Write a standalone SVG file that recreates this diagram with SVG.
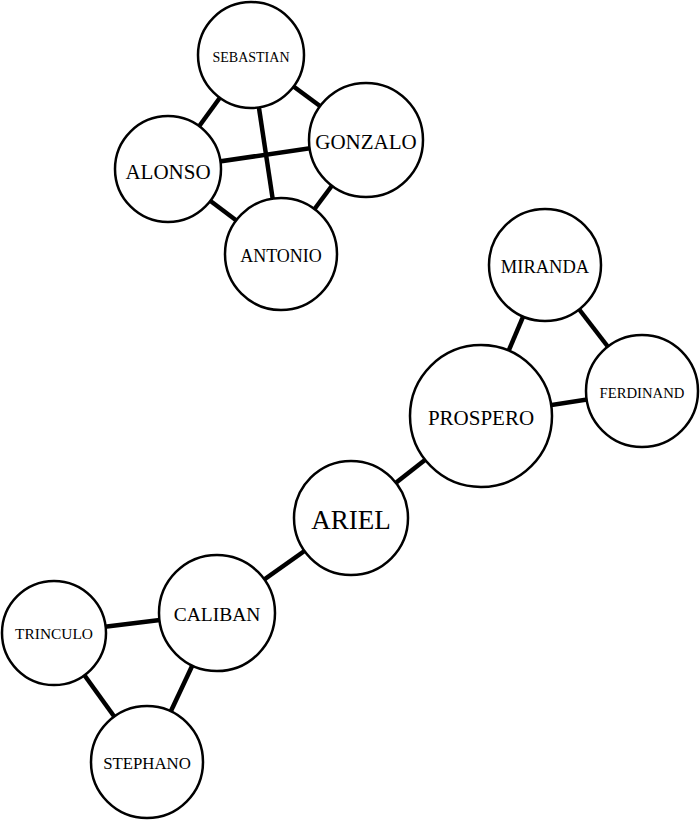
<svg xmlns="http://www.w3.org/2000/svg" width="700" height="820" viewBox="0 0 700 820">
<style>
.n circle{fill:#fff;stroke:#000;stroke-width:2.5}
.n text{font-family:"Liberation Serif","Times New Roman",serif;fill:#000;text-anchor:middle;dominant-baseline:central}
#edges line{stroke:#000;stroke-width:4.5}
</style>
<rect width="700" height="820" fill="#fff"/>
<g id="edges">
<line x1="251" y1="55" x2="168" y2="169"/>
<line x1="251" y1="55" x2="366" y2="140"/>
<line x1="251" y1="55" x2="281" y2="254"/>
<line x1="168" y1="169" x2="366" y2="140"/>
<line x1="168" y1="169" x2="281" y2="254"/>
<line x1="366" y1="140" x2="281" y2="254"/>
<line x1="545" y1="265" x2="481" y2="416"/>
<line x1="545" y1="265" x2="642" y2="391"/>
<line x1="481" y1="416" x2="642" y2="391"/>
<line x1="481" y1="416" x2="351" y2="518"/>
<line x1="351" y1="518" x2="217" y2="613"/>
<line x1="217" y1="613" x2="54" y2="633"/>
<line x1="217" y1="613" x2="147" y2="762"/>
<line x1="54" y1="633" x2="147" y2="762"/>
</g>
<g id="sebastian" class="n"><circle cx="251" cy="55" r="53"/><text x="251" y="57" font-size="14">SEBASTIAN</text></g>
<g id="gonzalo" class="n"><circle cx="366" cy="140" r="57"/><text x="366" y="142" font-size="21">GONZALO</text></g>
<g id="alonso" class="n"><circle cx="168" cy="169" r="53"/><text x="168" y="172" font-size="21">ALONSO</text></g>
<g id="antonio" class="n"><circle cx="281" cy="254" r="56"/><text x="281" y="256" font-size="18">ANTONIO</text></g>
<g id="miranda" class="n"><circle cx="545" cy="265" r="56"/><text x="545" y="267" font-size="18.5">MIRANDA</text></g>
<g id="ferdinand" class="n"><circle cx="642" cy="391" r="56"/><text x="642" y="393" font-size="14.7">FERDINAND</text></g>
<g id="prospero" class="n"><circle cx="481" cy="416" r="71"/><text x="481" y="418" font-size="21">PROSPERO</text></g>
<g id="ariel" class="n"><circle cx="351" cy="518" r="57"/><text x="351" y="520" font-size="27">ARIEL</text></g>
<g id="caliban" class="n"><circle cx="217" cy="613" r="58"/><text x="217" y="614" font-size="19.5">CALIBAN</text></g>
<g id="trinculo" class="n"><circle cx="54" cy="633" r="52"/><text x="54" y="633" font-size="15.4">TRINCULO</text></g>
<g id="stephano" class="n"><circle cx="147" cy="762" r="56"/><text x="147" y="763" font-size="16.8">STEPHANO</text></g>
</svg>
